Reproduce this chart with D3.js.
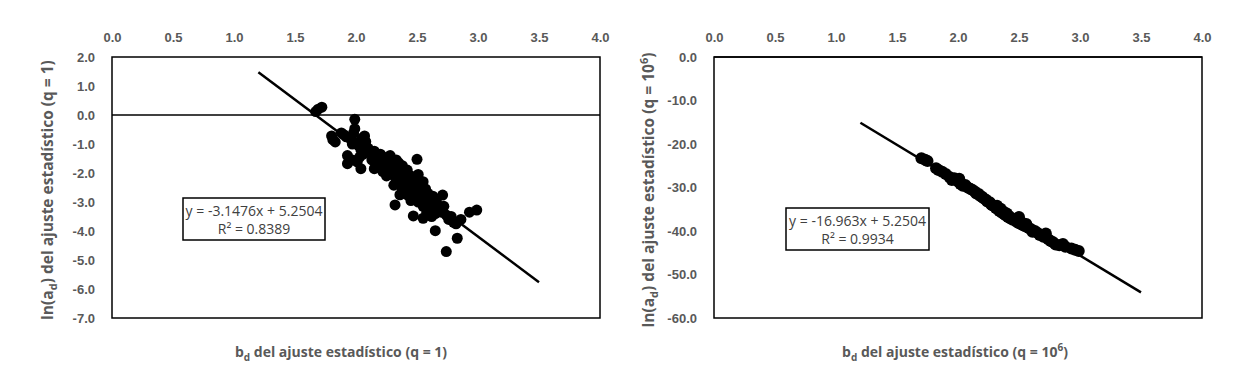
<!DOCTYPE html>
<meta charset="utf-8" />
<title>ln(ad) vs bd</title>
<style>
  body { margin: 0; background: #fff; }
  svg { display: block; font-family: "Open Sans", sans-serif; }
  .tick text { fill: #595959; font-weight: bold; font-size: 13px; }
  .axis-title { fill: #595959; font-weight: bold; font-size: 14px; }
  .y-title { font-size: 15.5px; }
  .eq { fill: #404040; font-size: 14px; }
</style>
<svg width="1239" height="385"></svg>
<script src="https://d3js.org/d3.v7.min.js"></script>
<script>
// x ticks shared by both panels
const xTicks = [0, 0.5, 1, 1.5, 2, 2.5, 3, 3.5, 4];

// panel q = 1
const yTicks1 = [2, 1, 0, -1, -2, -3, -4, -5, -6, -7];
const trend1 = { slope: -3.1476, intercept: 5.2504, x0: 1.2, x1: 3.5 };
const eq1 = ["y = -3.1476x + 5.2504", "R² = 0.8389"];
const points1 = [
  [1.67, 0.12], [1.69, 0.2], [1.72, 0.27],
  [1.8, -0.72], [1.81, -0.85], [1.83, -0.93], [1.88, -0.62], [1.9, -0.68], [1.92, -0.75],
  [1.99, -0.15], [1.99, -0.47], [1.98, -0.62], [1.96, -0.85], [1.97, -1.0], [2.0, -0.95],
  [2.02, -1.05], [2.05, -0.8], [2.07, -0.72], [2.08, -0.92], [2.04, -1.2],
  [1.93, -1.4], [1.93, -1.68], [1.97, -1.55], [2.01, -1.62], [2.04, -1.85], [2.03, -1.45], [2.06, -1.35],
  [2.1, -1.15], [2.12, -1.3], [2.13, -1.55], [2.15, -1.25], [2.15, -1.85], [2.17, -1.4], [2.18, -1.6],
  [2.2, -1.35], [2.2, -1.75], [2.22, -1.5], [2.22, -1.95], [2.24, -1.65], [2.25, -2.1], [2.26, -1.45],
  [2.27, -1.8], [2.28, -2.0], [2.29, -1.6], [2.3, -1.75], [2.31, -1.9], [2.32, -2.15], [2.33, -1.55],
  [2.33, -2.35], [2.35, -1.65], [2.35, -2.0], [2.36, -1.85], [2.37, -2.2], [2.38, -2.55], [2.38, -1.75],
  [2.4, -2.0], [2.4, -2.4], [2.41, -2.15], [2.42, -2.75], [2.43, -2.3], [2.44, -2.5], [2.45, -2.1],
  [2.46, -2.65], [2.47, -2.35], [2.48, -2.85], [2.48, -2.5], [2.49, -2.2], [2.5, -1.53], [2.51, -2.05],
  [2.5, -2.7], [2.51, -3.0], [2.52, -2.45], [2.53, -2.9], [2.54, -2.6], [2.55, -2.3], [2.55, -3.15],
  [2.56, -2.8], [2.57, -2.55], [2.58, -3.0], [2.59, -2.7], [2.6, -3.3], [2.6, -2.85], [2.62, -3.05],
  [2.63, -2.8], [2.64, -3.2], [2.65, -3.4], [2.66, -3.0], [2.68, -3.25], [2.7, -3.35], [2.71, -2.76],
  [2.72, -3.15], [2.74, -3.45], [2.76, -3.6], [2.78, -3.5], [2.8, -3.7], [2.82, -3.75], [2.86, -3.6],
  [2.31, -2.42], [2.32, -3.1], [2.47, -3.48], [2.55, -3.56], [2.65, -3.99], [2.83, -4.25], [2.74, -4.71],
  [2.93, -3.35], [2.99, -3.28], [2.28, -1.4], [2.42, -1.9], [2.36, -2.75], [2.45, -2.95], [2.58, -3.35],
  [2.62, -3.5]
];

// panel q = 10^6
const yTicks2 = [0, -10, -20, -30, -40, -50, -60];
const trend2 = { slope: -16.963, intercept: 5.2504, x0: 1.2, x1: 3.5 };
const eq2 = ["y = -16.963x + 5.2504", "R² = 0.9934"];
const points2 = [
  [1.7, -23.3], [1.73, -23.6], [1.75, -23.9], [1.82, -25.6], [1.84, -26.0], [1.87, -26.4], [1.9, -26.9],
  [1.93, -27.6], [1.95, -28.3], [1.97, -27.9], [2.0, -28.6], [2.01, -28.0], [2.02, -29.2], [2.04, -29.6],
  [2.06, -29.4], [2.08, -30.0], [2.1, -30.3], [2.12, -30.6], [2.14, -31.0], [2.15, -31.4], [2.17, -31.5],
  [2.18, -31.9], [2.2, -32.2], [2.21, -32.5], [2.23, -32.8], [2.24, -33.2], [2.26, -33.4], [2.27, -33.8],
  [2.28, -34.1], [2.3, -34.3], [2.31, -34.7], [2.32, -34.2], [2.33, -35.1], [2.34, -35.4], [2.35, -34.9],
  [2.36, -35.8], [2.37, -35.5], [2.38, -36.1], [2.39, -36.4], [2.4, -36.0], [2.41, -36.8], [2.42, -36.6],
  [2.43, -37.1], [2.45, -37.4], [2.47, -37.2], [2.48, -37.9], [2.5, -36.8], [2.5, -38.2], [2.52, -38.0],
  [2.53, -38.6], [2.55, -38.9], [2.56, -38.4], [2.58, -39.3], [2.6, -39.6], [2.61, -40.2], [2.63, -40.0],
  [2.65, -40.4], [2.67, -40.9], [2.7, -41.3], [2.72, -40.6], [2.74, -41.9], [2.76, -42.3], [2.78, -42.6],
  [2.8, -43.1], [2.83, -43.3], [2.86, -43.0], [2.88, -43.6], [2.93, -44.0], [2.96, -44.3], [2.99, -44.6]
];

const svg = d3.select("svg");
const fmt = d => d.toFixed(1);

function drawPanel(p) {
  const x = d3.scaleLinear().domain([0, 4]).range([p.left, p.left + 488]);
  const y = d3.scaleLinear().domain(d3.extent(p.yTicks)).range([318, 57]);
  const g = svg.append("g");

  // plot frame
  g.append("rect")
    .attr("x", x(0)).attr("y", y.range()[1])
    .attr("width", x(4) - x(0)).attr("height", y.range()[0] - y.range()[1])
    .attr("fill", "none").attr("stroke", "#000").attr("stroke-width", 1.5);

  // horizontal axis line at y = 0
  g.append("line")
    .attr("x1", x(0)).attr("x2", x(4))
    .attr("y1", y(0)).attr("y2", y(0))
    .attr("stroke", "#000").attr("stroke-width", 1.3);

  g.append("g")
    .attr("transform", `translate(0,${y.range()[1] - 12})`)
    .call(d3.axisTop(x).tickValues(xTicks).tickFormat(fmt).tickSize(0))
    .call(a => a.select(".domain").remove());

  g.append("g")
    .attr("transform", `translate(${x(0) - 14},0)`)
    .call(d3.axisLeft(y).tickValues(p.yTicks).tickFormat(fmt).tickSize(0))
    .call(a => a.select(".domain").remove());

  g.append("g").selectAll("circle")
    .data(p.points).join("circle")
    .attr("cx", d => x(d[0])).attr("cy", d => y(d[1]))
    .attr("r", p.r).attr("fill", "#000");

  const t = p.trend;
  g.append("line")
    .attr("x1", x(t.x0)).attr("y1", y(t.slope * t.x0 + t.intercept))
    .attr("x2", x(t.x1)).attr("y2", y(t.slope * t.x1 + t.intercept))
    .attr("stroke", "#000").attr("stroke-width", 2.5);

  // equation box
  const b = p.eqBox;
  g.append("rect")
    .attr("x", b.x).attr("y", b.y).attr("width", b.w).attr("height", b.h)
    .attr("fill", "#fff").attr("stroke", "#000").attr("stroke-width", 1.5);
  g.append("text").attr("class", "eq")
    .attr("x", b.x + b.w / 2).attr("y", b.y + 18)
    .attr("text-anchor", "middle").text(p.eq[0]);
  g.append("text").attr("class", "eq")
    .attr("x", b.x + b.w / 2).attr("y", b.y + 36)
    .attr("text-anchor", "middle").text(p.eq[1]);

  // x title
  const xt = g.append("text").attr("class", "axis-title")
    .attr("x", p.xTitleX).attr("y", 357).attr("text-anchor", "middle");
  xt.append("tspan").text("b");
  xt.append("tspan").attr("font-size", 10).attr("dy", 4).text("d");
  xt.append("tspan").attr("dy", -4).text(" del ajuste estadístico (q = " + p.q);
  if (p.sup) xt.append("tspan").attr("font-size", 10).attr("dy", -6).text(p.sup);
  xt.append("tspan").attr("dy", p.sup ? 6 : 0).text(")");

  // y title
  const yt = g.append("text").attr("class", "axis-title y-title")
    .attr("transform", `translate(${p.yTitleX},190) rotate(-90)`)
    .attr("text-anchor", "middle");
  yt.append("tspan").text("ln(a");
  yt.append("tspan").attr("font-size", 11).attr("dy", 4).text("d");
  yt.append("tspan").attr("dy", -4).text(") del ajuste estadístico (q = " + p.q);
  if (p.sup) yt.append("tspan").attr("font-size", 11).attr("dy", -6).text(p.sup);
  yt.append("tspan").attr("dy", p.sup ? 6 : 0).text(")");
}

drawPanel({
  left: 112, yTicks: yTicks1, points: points1, trend: trend1, eq: eq1, r: 5.5,
  eqBox: { x: 183, y: 198, w: 142, h: 42 }, q: "1", sup: null,
  xTitleX: 341, yTitleX: 53
});
drawPanel({
  left: 714, yTicks: yTicks2, points: points2, trend: trend2, eq: eq2, r: 6,
  eqBox: { x: 786, y: 208, w: 143, h: 42 }, q: "10", sup: "6",
  xTitleX: 955, yTitleX: 654
});
</script>
